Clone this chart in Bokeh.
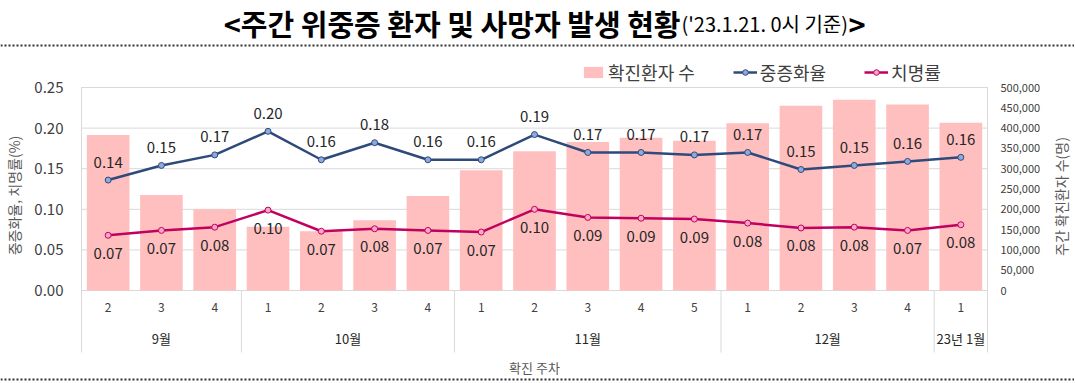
import math
import numpy as np
from bokeh.plotting import figure
from bokeh.models import Range1d, Legend, LegendItem
from bokeh.embed import file_html
from bokeh.resources import INLINE
from bokeh.core.properties import value

# ---------------- data ----------------
months = ["9월", "10월", "11월", "12월", "23년 1월"]
weeks = [["2", "3", "4"], ["1", "2", "3", "4"], ["1", "2", "3", "4", "5"],
         ["1", "2", "3", "4"], ["1"]]
cases = [383000, 235000, 200000, 157000, 146000, 173000, 233000, 296000, 343000,
         366000, 376000, 369000, 412000, 455000, 470000, 458000, 413000]
severe = [0.136, 0.154, 0.167, 0.196, 0.161, 0.182, 0.161, 0.161, 0.192,
          0.170, 0.170, 0.167, 0.170, 0.149, 0.154, 0.159, 0.164]
fatality = [0.068, 0.074, 0.078, 0.099, 0.073, 0.076, 0.074, 0.072, 0.100,
            0.090, 0.089, 0.088, 0.083, 0.077, 0.078, 0.074, 0.081]
left_ticks = [0.0, 0.05, 0.10, 0.15, 0.20, 0.25]
right_ticks = [0, 50000, 100000, 150000, 200000, 250000, 300000, 350000, 400000,
               450000, 500000]

title_main = "<주간 위중증 환자 및 사망자 발생 현황"
title_sub = "('23.1.21. 0시 기준)"
title_end = ">"
left_title = "중증화율, 치명률(%)"
right_title = "주간 확진환자 수(명)"
x_title = "확진 주차"
legend_labels = ["확진환자 수", "중증화율", "치명률"]

# ---------------- layout / style (page pixels) ----------------
FONT = "Noto Sans CJK KR"
W, H = 1074, 382
PL, PR = 81, 987          # plot area left / right
PT, PB = 87, 290          # plot area top / bottom
BAR_C = "#FFBFBF"
SEV_C, SEV_F = "#2F4A7A", "#8EA9DB"
FAT_C, FAT_F = "#C2005F", "#F6A8C8"
GRID_C = "#D9D9D9"
TXT_C = "#404040"
DOT_C = "#303030"

N = sum(len(ws) for ws in weeks)
cw = (PR - PL) / N
PX = left_ticks[-1] / (PB - PT)
QX = right_ticks[-1] / (PB - PT)


def xpx(wx):
    return (wx - PL) / cw


def ypx(wy):
    return (PB - wy) * PX


p = figure(width=W, height=H, x_range=Range1d(xpx(0), xpx(W)),
           y_range=Range1d(ypx(H), ypx(0)),
           output_backend="svg", toolbar_location=None,
           x_axis_location=None, y_axis_location=None, min_border=0)
p.extra_y_ranges = {"cases": Range1d((PB - H) * QX, PB * QX)}
p.background_fill_color = "white"
p.border_fill_color = "white"
p.outline_line_color = None
p.grid.visible = False


def txt(x, y, t, size, color=TXT_C, align="center", style="normal", angle=0.0, **kw):
    return p.text(x=x, y=y, text=t, text_font=value(FONT), text_font_size=size,
                  text_font_style=style, text_align=align, text_baseline="middle",
                  text_color=color, angle=angle, **kw)


# ---- gridlines, plot border and category separators ----
p.segment(x0=[0] * len(left_ticks), x1=[N] * len(left_ticks), y0=left_ticks, y1=left_ticks,
          line_color=GRID_C, line_width=1)
sizes = [len(ws) for ws in weeks]
bounds = np.concatenate([[0], np.cumsum(sizes)])
mids = (bounds[:-1] + bounds[1:]) / 2
inner = bounds[1:-1]
p.segment(x0=inner, x1=inner, y0=[0] * len(inner), y1=[ypx(352)] * len(inner),
          line_color=GRID_C, line_width=1)
outer = [bounds[0], bounds[-1]]
p.segment(x0=outer, x1=outer, y0=[left_ticks[-1]] * 2, y1=[ypx(352)] * 2,
          line_color=GRID_C, line_width=1)

# ---- axes tick labels ----
txt([xpx(63)] * len(left_ticks), left_ticks, [f"{t:.2f}" for t in left_ticks], "15px",
    align="right")
txt([xpx(1000)] * len(right_ticks), right_ticks, [f"{t:,}" for t in right_ticks], "11px",
    align="left", y_range_name="cases")
txt([xpx(13)], [ypx(195)], [left_title], "14px", color="#595959", angle=math.pi / 2)
txt([xpx(1060)], [ypx(196)], [right_title], "14px", color="#595959", angle=math.pi / 2)

# ---- series ----
xs = np.arange(N) + 0.5
bars = p.vbar(x=xs, top=cases, width=0.8, y_range_name="cases",
              fill_color=BAR_C, line_color=None)
sev_line = p.line(x=xs, y=severe, line_color=SEV_C, line_width=2.5)
sev_pts = p.scatter(x=xs, y=severe, size=6, fill_color=SEV_F, line_color=SEV_C, line_width=1)
fat_line = p.line(x=xs, y=fatality, line_color=FAT_C, line_width=2.5)
fat_pts = p.scatter(x=xs, y=fatality, size=6, fill_color=FAT_F, line_color=FAT_C, line_width=1)

txt(xs, severe, [f"{v:.2f}" for v in severe], "15px", color="#262626", y_offset=-18)
txt(xs, fatality, [f"{v:.2f}" for v in fatality], "15px", color="#262626", y_offset=18)

# ---- two-level category labels ----
flat_weeks = [w for ws in weeks for w in ws]
txt(xs, [ypx(307)] * N, flat_weeks, "12px")
txt(mids, [ypx(338)] * len(months), months, "13px", color="#262626")
txt([N / 2], [ypx(367)], [x_title], "13px", color="#595959")

# ---- header ----
txt([xpx(680)], [ypx(22)], [title_main], "29px", color="black", align="right", style="bold")
txt([xpx(681)], [ypx(23)], [title_sub], "20px", color="black", align="left")
txt([xpx(848)], [ypx(22)], [title_end], "29px", color="black", align="left", style="bold")

for wy in (45, 379):
    p.line(x=[xpx(0), xpx(W)], y=[ypx(wy)] * 2, line_dash="2 2", line_width=2,
           line_color=DOT_C)

legend = Legend(items=[LegendItem(label=legend_labels[0], renderers=[bars]),
                       LegendItem(label=legend_labels[1], renderers=[sev_line, sev_pts]),
                       LegendItem(label=legend_labels[2], renderers=[fat_line, fat_pts])],
                orientation="horizontal", location=(581, H - 85), padding=2, margin=0,
                spacing=38, label_standoff=3, glyph_width=24, glyph_height=14,
                label_height=20, border_line_color=None, background_fill_alpha=0,
                label_text_font=FONT, label_text_font_size="18px", label_text_color=TXT_C)
p.add_layout(legend)

open("out.html", "w").write(file_html(p, INLINE))
